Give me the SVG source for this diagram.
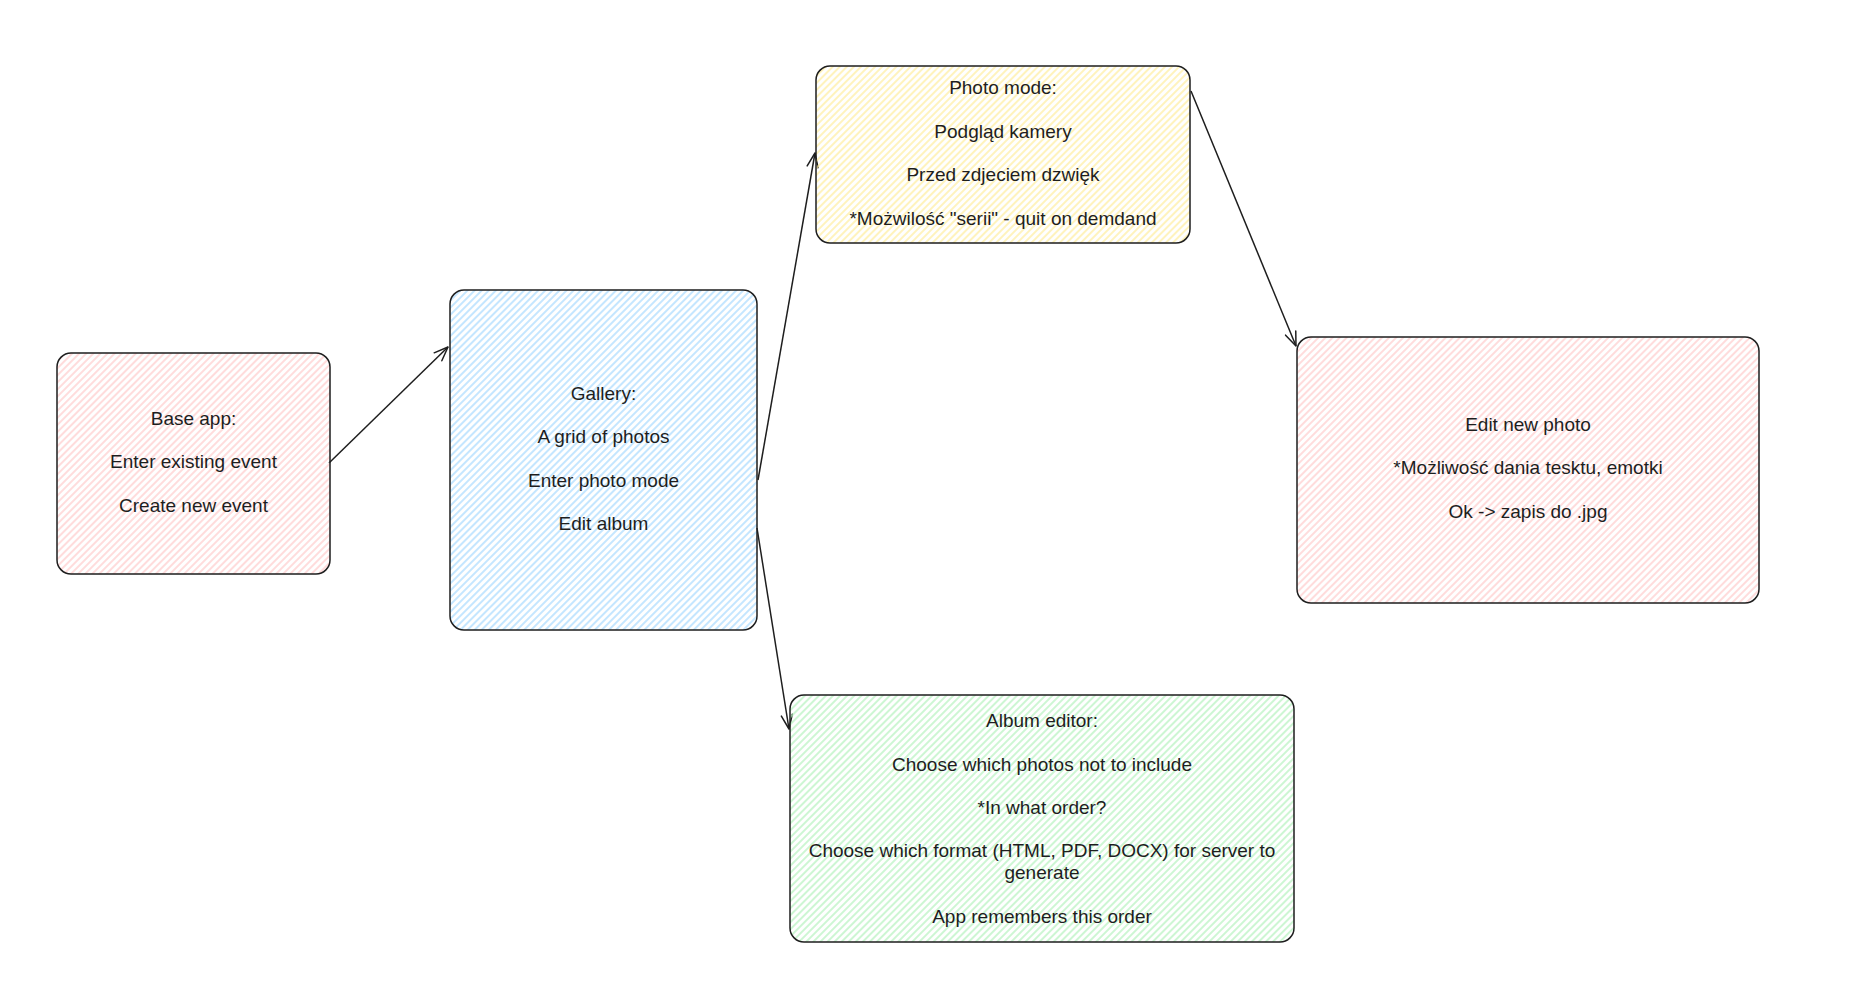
<svg xmlns="http://www.w3.org/2000/svg" width="1862" height="1004" viewBox="0 0 1862 1004">
<defs>
<pattern id="h-red" patternUnits="userSpaceOnUse" width="5" height="5" patternTransform="rotate(45)"><line x1="1" y1="0" x2="1" y2="5" stroke="#ffc9c9" stroke-width="1.3"/></pattern>
<pattern id="h-blue" patternUnits="userSpaceOnUse" width="5" height="5" patternTransform="rotate(45)"><line x1="1" y1="0" x2="1" y2="5" stroke="#a5d8ff" stroke-width="1.3"/></pattern>
<pattern id="h-yellow" patternUnits="userSpaceOnUse" width="5" height="5" patternTransform="rotate(45)"><line x1="1" y1="0" x2="1" y2="5" stroke="#ffec99" stroke-width="1.3"/></pattern>
<pattern id="h-green" patternUnits="userSpaceOnUse" width="5" height="5" patternTransform="rotate(45)"><line x1="1" y1="0" x2="1" y2="5" stroke="#b2f2bb" stroke-width="1.3"/></pattern>
<marker id="arrow" markerUnits="userSpaceOnUse" markerWidth="30" markerHeight="30" refX="0" refY="0" orient="auto" overflow="visible"><path d="M-14,-5.5 L0,0 L-14,5.5" fill="none" stroke="#1e1e1e" stroke-width="1.5" stroke-linecap="round" stroke-linejoin="round"/></marker>
<style>
.box{stroke:#1e1e1e;stroke-width:1.5;}
.t{font-family:"Liberation Sans",Arial,sans-serif;font-size:19px;fill:#1e1e1e;text-anchor:middle;}
.conn line{stroke:#1e1e1e;stroke-width:1.5;fill:none;marker-end:url(#arrow);}
</style>
</defs>
<rect width="1862" height="1004" fill="#ffffff"/>
<g id="connectors" class="conn">
<line x1="329" y1="463" x2="448" y2="347"/>
<line x1="758" y1="480" x2="815" y2="153"/>
<line x1="757" y1="528" x2="789" y2="729"/>
<line x1="1191" y1="91" x2="1296" y2="346"/>
</g>
<g id="base-app">
<rect class="box" x="57" y="353" width="273" height="221" rx="14" fill="url(#h-red)"/>
<text class="t" x="193.5" y="425">Base app:</text>
<text class="t" x="193.5" y="468">Enter existing event</text>
<text class="t" x="193.5" y="512">Create new event</text>
</g>
<g id="gallery">
<rect class="box" x="450" y="290" width="307" height="340" rx="14" fill="url(#h-blue)"/>
<text class="t" x="603.5" y="400">Gallery:</text>
<text class="t" x="603.5" y="443">A grid of photos</text>
<text class="t" x="603.5" y="487">Enter photo mode</text>
<text class="t" x="603.5" y="530">Edit album</text>
</g>
<g id="photo-mode">
<rect class="box" x="816" y="66" width="374" height="177" rx="14" fill="url(#h-yellow)"/>
<text class="t" x="1003" y="94">Photo mode:</text>
<text class="t" x="1003" y="138">Podgląd kamery</text>
<text class="t" x="1003" y="181">Przed zdjeciem dzwięk</text>
<text class="t" x="1003" y="225">*Możwilość "serii" - quit on demdand</text>
</g>
<g id="edit-new-photo">
<rect class="box" x="1297" y="337" width="462" height="266" rx="14" fill="url(#h-red)"/>
<text class="t" x="1528" y="431">Edit new photo</text>
<text class="t" x="1528" y="474">*Możliwość dania tesktu, emotki</text>
<text class="t" x="1528" y="518">Ok -&gt; zapis do .jpg</text>
</g>
<g id="album-editor">
<rect class="box" x="790" y="695" width="504" height="247" rx="14" fill="url(#h-green)"/>
<text class="t" x="1042" y="727">Album editor:</text>
<text class="t" x="1042" y="771">Choose which photos not to include</text>
<text class="t" x="1042" y="814">*In what order?</text>
<text class="t" x="1042" y="857">Choose which format (HTML, PDF, DOCX) for server to</text>
<text class="t" x="1042" y="879">generate</text>
<text class="t" x="1042" y="923">App remembers this order</text>
</g>
</svg>
